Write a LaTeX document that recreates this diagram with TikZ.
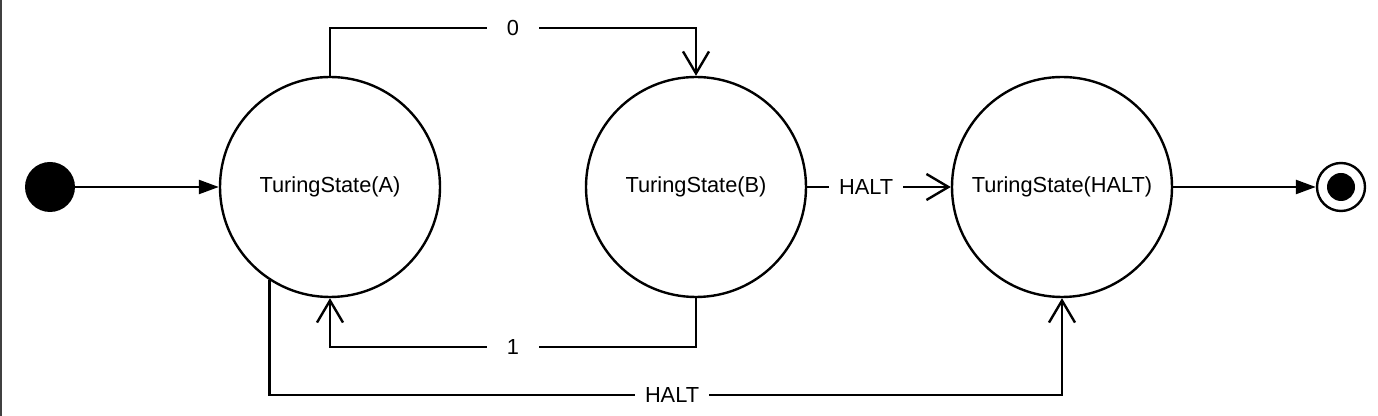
\documentclass[tikz,border=0pt]{standalone}
\usepackage{fontspec}
\setmainfont{Liberation Sans}
\usetikzlibrary{arrows.meta,positioning,calc}
\tikzset{
  estado/.style={draw, circle, line width=1.2pt, minimum size=110pt, inner sep=0pt, font=\fontsize{10.9}{13}\selectfont},
  ini/.style={fill, circle, minimum size=25pt, inner sep=0pt},
  fin/.style={draw, circle, line width=1.2pt, minimum size=24pt, inner sep=0pt},
  fl/.style={-{Straight Barb[length=11pt,width=13pt]}, line width=1.2pt},
  flt/.style={-{Triangle[length=10pt,width=7pt]}, line width=1.2pt},
  et/.style={fill=white, inner xsep=5pt, minimum width=26pt, font=\fontsize{10.9}{13}\selectfont},
}
\begin{document}
\begin{tikzpicture}[x=0.5pt,y=-0.5pt]
  \useasboundingbox (0,0) rectangle (1378,416);
  \draw[black!75, line width=1pt] (1,0) -- (1,416);
  \node[ini] (s) at (50,187) {};
  \node[estado] (A) at (330,187) {TuringState(A)};
  \node[estado] (B) at (696,187) {TuringState(B)};
  \node[estado] (H) at (1062,187) {TuringState(HALT)};
  \node[fin] (f) at (1341,187) {};
  \fill (f.center) circle[radius=7pt];
  \draw[flt] (s) -- (A);
  \draw[flt] (H) -- (f);
  \draw[fl] (A.north) -- (A.north |- 0,28) -- node[et]{0} (B.north |- 0,28) -- (B.north);
  \draw[fl] (B.south) -- (B.south |- 0,347) -- node[et]{1} (A.south |- 0,347) -- (A.south);
  \draw[fl] (B) -- node[et,pos=0.41]{HALT} (H);
  \draw[fl] (A.-123) -- (A.-123 |- 0,395) -- node[et,pos=0.508]{HALT} (H.south |- 0,395) -- (H.south);
\end{tikzpicture}
\end{document}
